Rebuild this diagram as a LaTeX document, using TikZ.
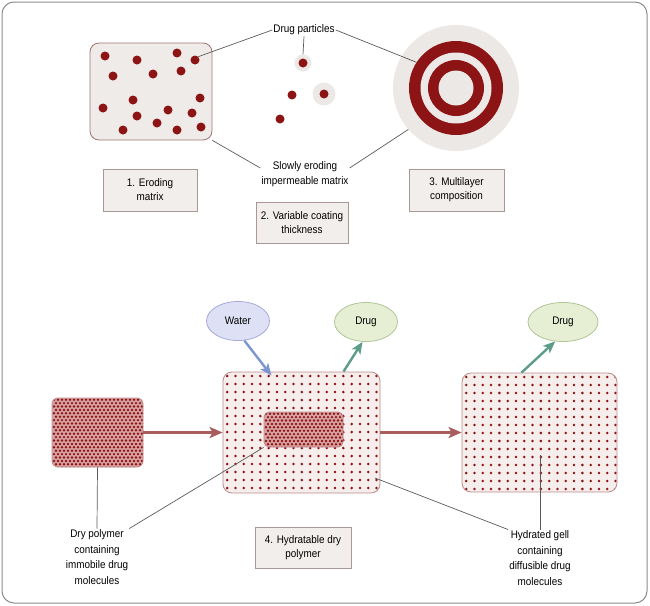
\documentclass[tikz,border=0pt]{standalone}
\usepackage{fontspec}
\newfontfamily\figfont{Liberation Sans}[FakeStretch=0.9]
\usetikzlibrary{arrows.meta}

\definecolor{dotred}{HTML}{8C1414}
\definecolor{halogray}{HTML}{ECE8E6}
\definecolor{matfill}{HTML}{EFEBE9}
\definecolor{matline}{HTML}{A07474}
\definecolor{boxfill}{HTML}{F2EEEC}
\definecolor{boxline}{HTML}{A89898}
\definecolor{leadgray}{HTML}{5A5A5A}
\definecolor{framegray}{HTML}{8C8C8C}
\definecolor{gelfill}{HTML}{F6EEEC}
\definecolor{gelline}{HTML}{BC8A8A}
\definecolor{densefill}{HTML}{D9A2A2}
\definecolor{flowred}{HTML}{A85C5C}
\definecolor{waterfill}{HTML}{DEE1F5}
\definecolor{waterline}{HTML}{A4A9D8}
\definecolor{waterblue}{HTML}{7C96D0}
\definecolor{drugfill}{HTML}{E6EFD4}
\definecolor{drugline}{HTML}{AFC598}
\definecolor{drugteal}{HTML}{5E9C8A}

\tikzset{
  particle/.style={circle, fill=dotred, inner sep=0pt, minimum size=9pt},
  halo/.style={circle, fill=halogray, inner sep=0pt},
  ring/.style={circle, inner sep=0pt},
  infobox/.style={draw=boxline, fill=boxfill, line width=0.7pt, minimum width=94pt,
    minimum height=42pt, align=center, inner sep=2pt, font=\figfont\fontsize{11}{14}\selectfont},
  callout/.style={align=center, inner sep=1pt},
  leader/.style={draw=leadgray, line width=0.7pt},
  dotgrid/.style n args={6}{path picture={
    \foreach \i in {0,...,#1} \foreach \j in {0,...,#2}
      \fill[dotred] ([shift={({#3*(\i+0.5+#5*mod(\j,2))},{#4*(\j+0.5)})}]path picture bounding box.north west) circle (#6);}},
  gelbox/.style={draw=gelline, fill=gelfill, line width=0.8pt, rounded corners=9pt, inner sep=0pt,
    dotgrid={19}{15}{8.3}{8.0}{0}{1.4pt}},
  densebox/.style={draw=gelline, fill=densefill, line width=0.8pt, rounded corners=6pt, inner sep=0pt,
    dotgrid={24}{21}{4}{3.4}{0.5}{1.35pt}},
  bubble/.style={ellipse, minimum width=63pt, minimum height=39pt, line width=0.8pt},
  flow/.style={draw=flowred, line width=2.6pt, -{Stealth[length=13pt,width=11pt,inset=3pt]}},
  inflow/.style={draw=waterblue, line width=2.4pt, -{Stealth[length=12pt,width=10pt,inset=3pt]}},
  outflow/.style={draw=drugteal, line width=2.4pt, -{Stealth[length=12pt,width=10pt,inset=3pt]}}
}
\usetikzlibrary{shapes.geometric}

\begin{document}
\begin{tikzpicture}[x=1pt,y=-1pt,font=\figfont\fontsize{11}{15.5}\selectfont]
\useasboundingbox (0,0) rectangle (650,605);
\draw[framegray, line width=1pt, rounded corners=12pt] (2,2) rectangle (647,603);

% Top row: eroding matrix
\node[draw=matline, fill=matfill, line width=0.8pt, rounded corners=9pt,
  minimum width=122pt, minimum height=97pt, inner sep=0pt] (mat) at (151,91.5) {};
\foreach \p [count=\k] in {(105,56),(137,60),(177,53),(195,60),(113,76),(153,74),(181,71),
  (133,100),(200,98),(103,108),(137,116),(168,110),(192,113),(157,123),(123,130),(177,130),(201,127)}
  \node[particle] (m\k) at \p {};

% Top row: variable coating thickness
\node[halo, minimum size=17pt] (c1) at (303,63) {};
\node[particle] at (c1) {};
\node[halo, minimum size=23pt] (c2) at (324,94) {};
\node[particle] at (c2) {};
\node[particle] (c3) at (292,95) {};
\node[particle] (c4) at (280,119) {};

% Top row: multilayer target
\node[ring, fill=halogray, minimum size=126pt] (tgtout) at (456,88) {};
\node[ring, fill=dotred, minimum size=94pt] (tgt) at (tgtout) {};
\node[ring, fill=halogray, minimum size=71pt] at (tgtout) {};
\node[ring, fill=dotred, minimum size=56pt] at (tgtout) {};
\node[ring, fill=halogray, minimum size=35pt] at (tgtout) {};

% Labels and leaders
\node[callout] (dp) at (304,30) {Drug particles};
\node[callout] (se) at (305,174) {Slowly eroding\\impermeable matrix};
\draw[leader] (dp.west) -- (m4.north east);
\draw[leader] (dp.south) -- (c1.north);
\draw[leader] (dp.east) -- (tgt.147);
\draw[leader] ([yshift=6pt]se.west) -- (mat.south east);
\draw[leader] ([yshift=6pt]se.east) -- (tgtout.221);

\node[infobox] (lbl1) at (150,190) {1. Eroding\\matrix};
\node[infobox, minimum width=92pt, minimum height=41pt] (lbl2) at (302,222.5) {2. Variable coating\\thickness};
\node[infobox, minimum width=95pt] (lbl3) at (456.5,190) {3. Multilayer\\composition};

% Bottom row: hydratable polymer
\node[densebox, minimum width=91pt, minimum height=69pt] (dry) at (97.5,432.5) {};
\node[gelbox, minimum width=157pt, minimum height=121pt] (hyd) at (301.5,432.5) {};
\node[densebox, minimum width=79pt, minimum height=35pt, rounded corners=5pt] (core) at (303.5,429.5) {};
\node[gelbox, minimum width=155pt, minimum height=119pt] (gel) at (539.5,432.5) {};

\node[bubble, draw=waterline, fill=waterfill] (water) at (238,321) {Water};
\node[bubble, draw=drugline, fill=drugfill] (drug1) at (366,322) {Drug};
\node[bubble, draw=drugline, fill=drugfill, minimum width=70pt] (drug2) at (563,322) {Drug};

\draw[flow] (dry.east) -- (hyd.west);
\draw[flow] (hyd.east) -- (gel.west);
\draw[inflow] (water.-72) -- ([xshift=-30pt,yshift=-4pt]hyd.north);
\draw[outflow] ([xshift=42pt]hyd.north) -- (drug1.-100);
\draw[outflow] ([xshift=-18pt]gel.north) -- (drug2.-112);

\node[callout] (drylbl) at (97,557) {Dry polymer\\containing\\immobile drug\\molecules};
\node[callout] (gellbl) at (540,558) {Hydrated gell\\containing\\diffusible drug\\molecules};
\coordinate (gelpt) at (540,455);
\coordinate (hydpt) at (375,478);
\draw[leader] (drylbl.north) -- (dry.south);
\draw[leader] (drylbl.north east) -- (core.south west);
\draw[leader] (gellbl.north) -- (gelpt);
\draw[leader] (gellbl.north west) -- (hydpt);

\node[infobox, minimum width=96pt, minimum height=41pt] (lbl4) at (303,547.5) {4. Hydratable dry\\polymer};
\end{tikzpicture}
\end{document}
